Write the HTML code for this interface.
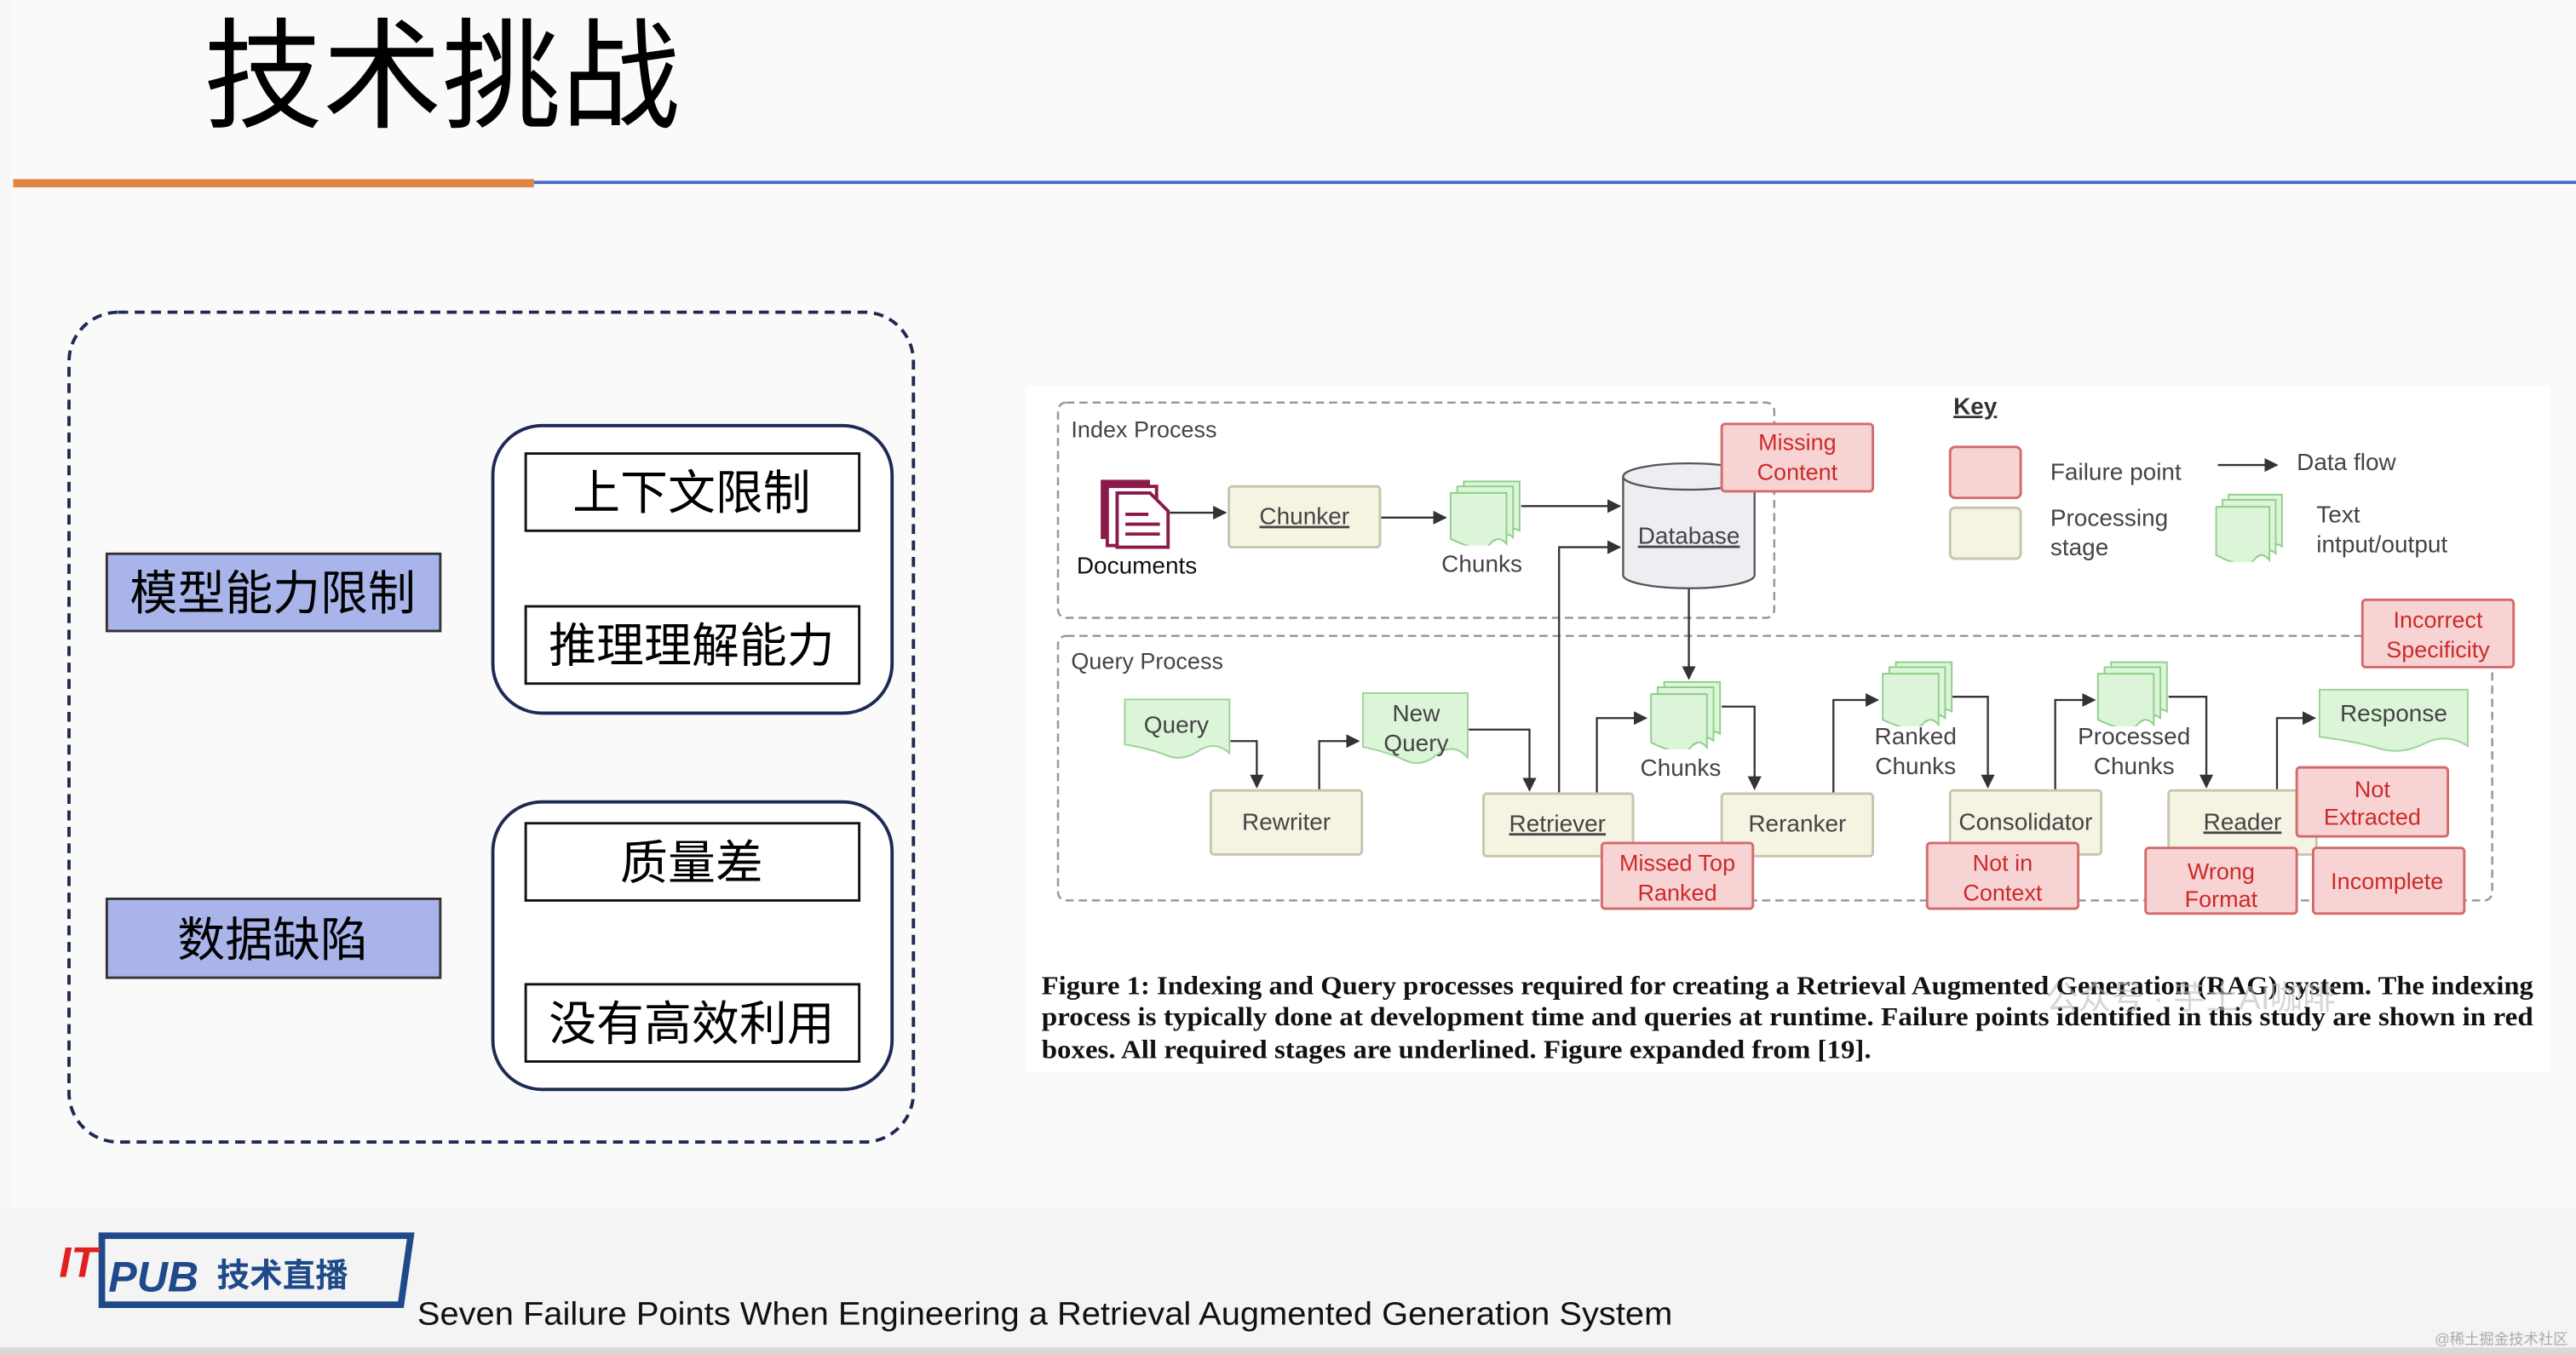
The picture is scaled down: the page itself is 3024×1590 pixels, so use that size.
<!DOCTYPE html>
<html><head><meta charset="utf-8"><style>
html,body{margin:0;padding:0;background:#f8f8f8;}
svg{display:block}
</style></head><body>
<svg width="3024" height="1590" viewBox="0 0 1568 824" preserveAspectRatio="none" xmlns="http://www.w3.org/2000/svg" font-family="Liberation Sans, Noto Sans CJK SC, sans-serif">
<defs>
<symbol id="doc" viewBox="0 0 100 60" preserveAspectRatio="none">
<path d="M1 1H99V50Q85 38 70 48T40 52T1 42Z" fill="#dcf5d8" stroke="#9ed49a" stroke-width="2" vector-effect="non-scaling-stroke"/>
</symbol>
<symbol id="stk" viewBox="0 0 44 40" preserveAspectRatio="none">
<path d="M9 1H43V31Q38 28 33 32T9 30Z" fill="#dcf5d8" stroke="#8fcf8a" stroke-width="1"/>
<path d="M5 4H39V35Q34 31 29 36T5 33Z" fill="#dcf5d8" stroke="#8fcf8a" stroke-width="1"/>
<path d="M1 8H35V39Q30 33 25 39T1 36Z" fill="#dcf5d8" stroke="#8fcf8a" stroke-width="1"/>
</symbol>
<marker id="ar" viewBox="0 0 10 10" refX="9" refY="5" markerWidth="7" markerHeight="7" orient="auto"><path d="M0 0L10 5L0 10Z" fill="#333"/></marker>
</defs>
<rect width="1568" height="824" fill="#f8f8f8"/>
<rect x="8" y="0" width="1560" height="735" fill="#fafafa"/>
<rect x="0" y="735" width="1568" height="85" fill="#f4f4f4"/>
<rect x="0" y="820" width="1568" height="4" fill="#d8d8d8"/>
<text x="124" y="72" font-size="73" fill="#000" textLength="290" lengthAdjust="spacingAndGlyphs">技术挑战</text>
<rect x="8" y="109" width="317" height="5" fill="#e08642"/>
<rect x="325" y="110" width="1243" height="2" fill="#4a6fc7"/>

<rect x="42" y="190" width="514" height="505" rx="30" fill="none" stroke="#1e2a55" stroke-width="2" stroke-dasharray="6,4"/>
<rect x="65" y="337" width="203" height="47" fill="#a9b4ea" stroke="#333" stroke-width="1.5"/>
<text x="166" y="371" font-size="29" text-anchor="middle">模型能力限制</text>
<rect x="65" y="547" width="203" height="48" fill="#a9b4ea" stroke="#333" stroke-width="1.5"/>
<text x="166" y="582" font-size="29" text-anchor="middle">数据缺陷</text>
<rect x="300" y="259" width="243" height="175" rx="30" fill="#fff" stroke="#1e2a55" stroke-width="2"/>
<rect x="300" y="488" width="243" height="175" rx="30" fill="#fff" stroke="#1e2a55" stroke-width="2"/>
<g fill="#fff" stroke="#111" stroke-width="1.5">
<rect x="320" y="276" width="203" height="47"/><rect x="320" y="369" width="203" height="47"/>
<rect x="320" y="501" width="203" height="47"/><rect x="320" y="599" width="203" height="47"/></g>
<g font-size="29" text-anchor="middle"><text x="421" y="310">上下文限制</text><text x="421" y="403">推理理解能力</text>
<text x="421" y="535">质量差</text><text x="421" y="633">没有高效利用</text></g>

<rect x="624" y="235" width="928" height="417" fill="#fff"/>
<g fill="none" stroke="#999" stroke-width="1.3" stroke-dasharray="5,3">
<rect x="644" y="245" width="436" height="131" rx="5"/>
<rect x="644" y="387" width="873" height="161" rx="5"/></g>
<g font-size="14" fill="#444"><text x="652" y="266">Index Process</text><text x="652" y="407">Query Process</text></g>

<g stroke="#333" stroke-width="1.2" fill="none" marker-end="url(#ar)">
<path d="M712 312H746"/><path d="M840 315H880"/><path d="M926 308H986"/>
<path d="M949 483V333H986"/><path d="M1028 357V413"/>
<path d="M749 451H765V479"/><path d="M803 481V451H827"/><path d="M894 444H931V481"/>
<path d="M972 483V437H1002"/><path d="M1048 430H1068V480"/><path d="M1116 483V426H1143"/>
<path d="M1188 424H1210V479"/><path d="M1251 481V426H1275"/><path d="M1320 424H1343V479"/>
<path d="M1386 481V437H1409"/><path d="M1350 283H1386"/></g>

<g fill="#f5f3e2" stroke="#c8c5ae" stroke-width="1.5">
<rect x="748" y="296" width="92" height="37" rx="2"/>
<rect x="737" y="481" width="92" height="39" rx="2"/><rect x="903" y="483" width="91" height="38" rx="2"/>
<rect x="1048" y="483" width="92" height="38" rx="2"/><rect x="1187" y="481" width="92" height="39" rx="2"/>
<rect x="1320" y="481" width="90" height="39" rx="2"/><rect x="1187" y="309" width="43" height="31" rx="3"/></g>

<path d="M988 290V350A40 8 0 0 0 1068 350V290A40 8 0 0 0 988 290Z" fill="#eceef2" stroke="#555" stroke-width="1.2"/>
<path d="M988 290A40 8 0 0 0 1068 290" fill="none" stroke="#555" stroke-width="1.2"/>

<g fill="#8b1a4a"><rect x="670" y="292" width="30" height="36"/></g>
<rect x="674" y="296" width="30" height="36" fill="#fff" stroke="#8b1a4a" stroke-width="2"/>
<path d="M680 300H700L711 311V333H680Z" fill="#fff" stroke="#8b1a4a" stroke-width="2"/>
<g stroke="#8b1a4a" stroke-width="2"><path d="M685 313H699M685 319H706M685 325H706"/></g>

<use href="#stk" x="882" y="292" width="44" height="40"/>
<use href="#stk" x="1004" y="414" width="44" height="42"/>
<use href="#stk" x="1145" y="402" width="44" height="40"/>
<use href="#stk" x="1276" y="402" width="44" height="40"/>
<use href="#stk" x="1348" y="300" width="42" height="42"/>
<use href="#doc" x="684" y="425" width="65" height="40"/>
<use href="#doc" x="829" y="421" width="65" height="48"/>
<use href="#doc" x="1411" y="419" width="92" height="42"/>

<g fill="#f7d3d3" stroke="#d46a6a" stroke-width="1.5">
<rect x="1048" y="258" width="92" height="41" rx="2"/><rect x="1438" y="365" width="92" height="41" rx="2"/>
<rect x="1398" y="467" width="92" height="42" rx="2"/><rect x="975" y="513" width="92" height="40" rx="2"/>
<rect x="1173" y="513" width="92" height="40" rx="2"/><rect x="1306" y="516" width="92" height="40" rx="2"/>
<rect x="1408" y="516" width="92" height="40" rx="2"/><rect x="1187" y="272" width="43" height="31" rx="3"/></g>

<g font-size="14.5" fill="#444" text-anchor="middle">
<text x="794" y="319" text-decoration="underline">Chunker</text>
<text x="1028" y="331" text-decoration="underline">Database</text>
<text x="692" y="349" fill="#111">Documents</text><text x="902" y="348">Chunks</text>
<text x="716" y="446">Query</text><text x="862" y="439">New</text><text x="862" y="457">Query</text>
<text x="783" y="505">Rewriter</text><text x="948" y="506" text-decoration="underline">Retriever</text>
<text x="1023" y="472">Chunks</text><text x="1094" y="506">Reranker</text>
<text x="1166" y="453">Ranked</text><text x="1166" y="471">Chunks</text>
<text x="1233" y="505">Consolidator</text>
<text x="1299" y="453">Processed</text><text x="1299" y="471">Chunks</text>
<text x="1365" y="505" text-decoration="underline">Reader</text>
<text x="1457" y="439">Response</text>
</g>
<g font-size="14" fill="#cc2a2a" text-anchor="middle">
<text x="1094" y="274">Missing</text><text x="1094" y="292">Content</text>
<text x="1484" y="382">Incorrect</text><text x="1484" y="400">Specificity</text>
<text x="1444" y="485">Not</text><text x="1444" y="502">Extracted</text>
<text x="1021" y="530">Missed Top</text><text x="1021" y="548">Ranked</text>
<text x="1219" y="530">Not in</text><text x="1219" y="548">Context</text>
<text x="1352" y="535">Wrong</text><text x="1352" y="552">Format</text>
<text x="1453" y="541">Incomplete</text>
</g>
<g font-size="14.5" fill="#444">
<text x="1189" y="252" font-weight="bold" text-decoration="underline" fill="#333">Key</text>
<text x="1248" y="292">Failure point</text><text x="1248" y="320">Processing</text><text x="1248" y="338">stage</text>
<text x="1398" y="286">Data flow</text><text x="1410" y="318">Text</text><text x="1410" y="336">intput/output</text>
</g>
<g font-family="Liberation Serif, serif" font-size="16" fill="#111" font-weight="bold">
<text x="634" y="605" textLength="908" lengthAdjust="spacingAndGlyphs">Figure 1: Indexing and Query processes required for creating a Retrieval Augmented Generation (RAG) system. The indexing</text>
<text x="634" y="624" textLength="908" lengthAdjust="spacingAndGlyphs">process is typically done at development time and queries at runtime. Failure points identified in this study are shown in red</text>
<text x="634" y="644" textLength="505" lengthAdjust="spacingAndGlyphs">boxes. All required stages are underlined. Figure expanded from [19].</text>
</g>
<text x="1245" y="614" font-size="20" fill="#bbb" opacity="0.6">公众号 · 芋土AI咖啡</text>

<g>
<path d="M62 752H250L244 794H62Z" fill="none" stroke="#1f4a8a" stroke-width="4"/>
<text x="36" y="777" font-size="26" font-weight="bold" font-style="italic" fill="#e02020">IT</text>
<text x="66" y="786" font-size="26" font-weight="bold" font-style="italic" fill="#1f4a8a">PUB</text>
<text x="132" y="783" font-size="20" font-weight="bold" fill="#1f4a8a">技术直播</text>
</g>
<text x="254" y="806" font-size="19.5" fill="#111" textLength="764" lengthAdjust="spacingAndGlyphs">Seven Failure Points When Engineering a Retrieval Augmented Generation System</text>
<text x="1482" y="818" font-size="9" fill="#aaa">@稀土掘金技术社区</text>
</svg>
</body></html>
